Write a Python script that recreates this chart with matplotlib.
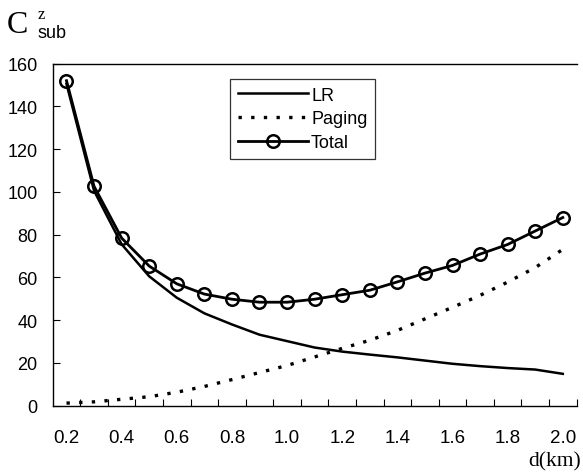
import matplotlib
matplotlib.use("Agg")
import matplotlib.pyplot as plt
import numpy as np

d = [0.2, 0.3, 0.4, 0.5, 0.6, 0.7, 0.8, 0.9, 1.0, 1.1, 1.2, 1.3, 1.4, 1.5, 1.6, 1.7, 1.8, 1.9, 2.0]
lr = [150.5, 100.5, 75.5, 60.5, 50.5, 43.2, 38.0, 33.2, 30.2, 27.2, 25.3, 23.9, 22.6, 21.1, 19.6, 18.5, 17.6, 16.9, 14.9]
paging = [1.2, 1.8, 3.0, 4.2, 6.3, 9.0, 12.2, 15.5, 18.8, 22.8, 26.8, 30.6, 35.2, 40.6, 46.0, 51.6, 57.8, 64.6, 73.1]
total = [152.0, 102.6, 78.4, 65.3, 57.0, 52.2, 49.8, 48.4, 48.4, 49.8, 51.9, 54.0, 57.9, 62.0, 65.6, 70.9, 75.4, 81.7, 88.0]

x_labels = ["0.2", "0.4", "0.6", "0.8", "1.0", "1.2", "1.4", "1.6", "1.8", "2.0"]
y_ticks = [0, 20, 40, 60, 80, 100, 120, 140, 160]

plt.rcParams['font.family'] = ['Liberation Sans', 'DejaVu Sans']

fig = plt.figure(figsize=(5.83, 4.77), dpi=100)
ax = fig.add_axes([0.0904, 0.1474, 0.8986, 0.7172])

ax.plot(d, lr, color='black', lw=1.8, label='LR')
ax.plot(d, paging, color='black', lw=2.4, linestyle=(0, (1, 2.8)), label='Paging')
ax.plot(d, total, color='black', lw=2.0, marker='o', markersize=9, markerfacecolor='none',
        markeredgewidth=1.8, label='Total')

ax.set_xlim(0.15, 2.05)
ax.set_ylim(0, 160)

# labels at every other category, tick marks between categories
ax.set_xticks(np.arange(10) * 0.2 + 0.2)
ax.set_xticklabels(x_labels)
ax.set_xticks(np.arange(19) * 0.1 + 0.25, minor=True)
ax.tick_params(axis='x', which='major', length=0, pad=17, labelsize=13.5)
ax.tick_params(axis='x', which='minor', direction='in', length=5, width=0.8)
ax.set_yticks(y_ticks)
ax.tick_params(axis='y', which='major', direction='in', length=5, width=0.8, pad=11, labelsize=13)

ax.spines['right'].set_visible(False)
for s in ['left', 'bottom', 'top']:
    ax.spines[s].set_linewidth(1.0)

leg = ax.legend(loc='upper left', bbox_to_anchor=(0.339, 0.955), frameon=True, fancybox=False,
                edgecolor='black', fontsize=13, handlelength=3.9, handletextpad=0.15,
                labelspacing=0.38, borderpad=0.42, borderaxespad=0)
leg.get_frame().set_linewidth(0.9)

fig.text(7 / 583, 1 - 33 / 477, "C", family='Liberation Serif', fontsize=23, ha='left', va='baseline')
fig.text(38 / 583, 1 - 19 / 477, "z", family='Liberation Serif', fontsize=12, ha='left', va='baseline')
fig.text(37 / 583, 1 - 38 / 477, "sub", family='Liberation Sans', fontsize=13, ha='left', va='baseline')
fig.text(581 / 583, 1 - 462 / 477, "d(km)", family='Liberation Serif', fontsize=15.5, ha='right', va='center')

fig.savefig("out.png", dpi=100)
